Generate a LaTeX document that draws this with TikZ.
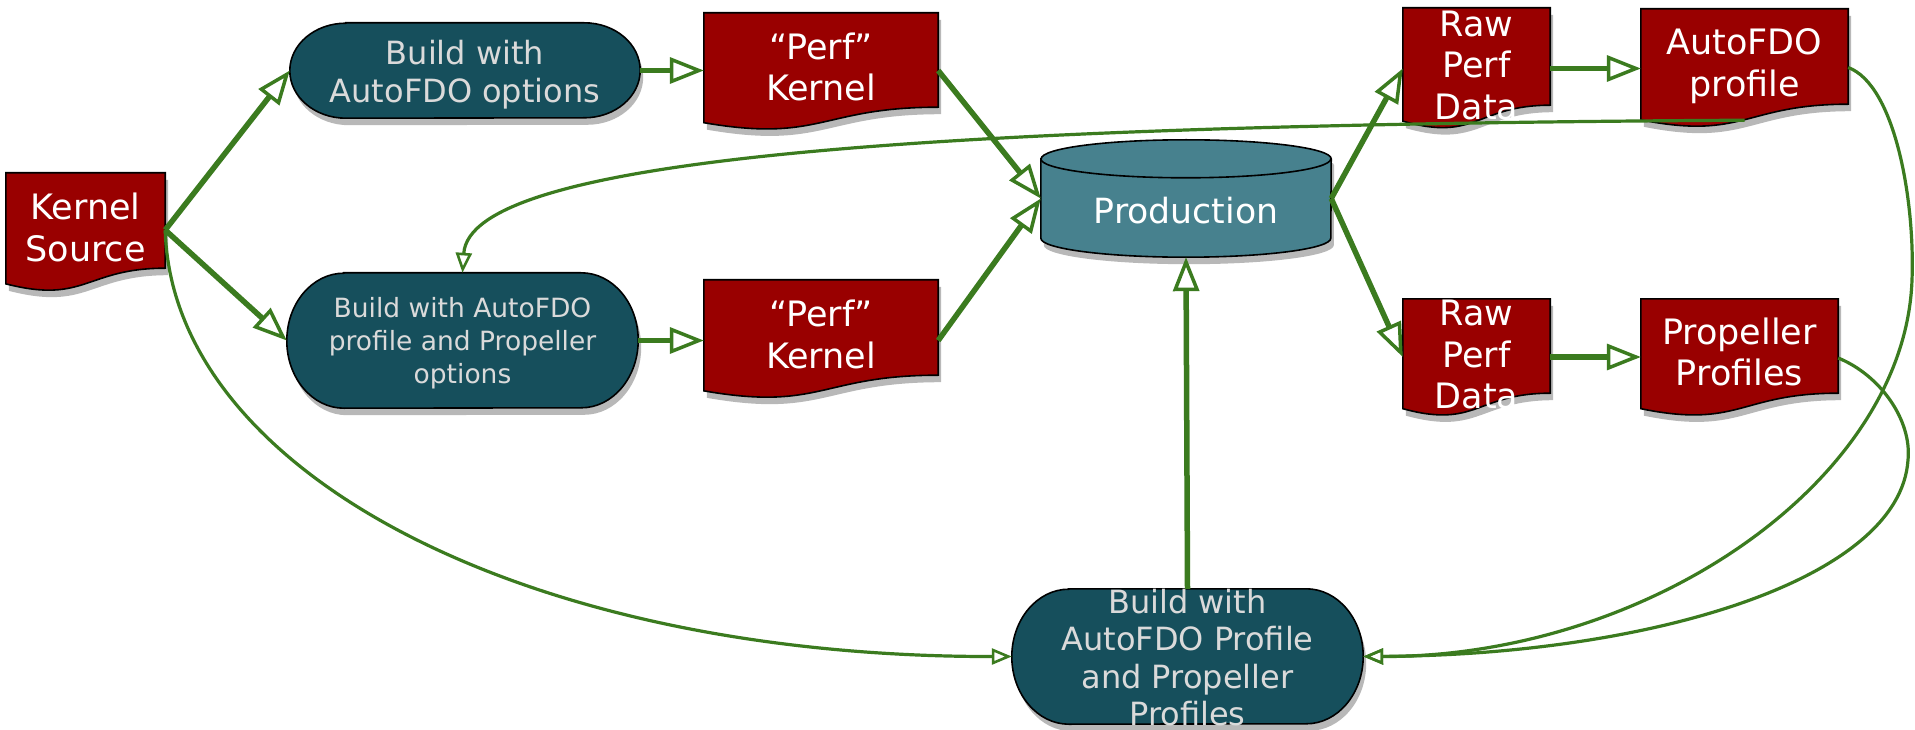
\documentclass[tikz,border=0pt]{standalone}
\usepackage{fontspec}
\setmainfont{DejaVu Sans}
\usetikzlibrary{arrows.meta,shadows,backgrounds,calc}
\definecolor{docred}{HTML}{990000}
\definecolor{buildteal}{HTML}{164F5C}
\definecolor{prodteal}{HTML}{47818E}
\definecolor{arrowgreen}{HTML}{3B7B1F}
\definecolor{buildtext}{HTML}{DADADA}
\newcommand\ntxt[2][0pt]{\smash{\raisebox{\dimexpr-0.37em-#1\relax}{\begin{tabular}{@{}c@{}}#2\end{tabular}}}}
\newcommand\docshape[2]{\path[docfill] (#1.north west) -- (#1.north east) -- (#1.south east) .. controls (#1.south) and ([yshift=-0.381*#2pt]#1.south) .. ([yshift=-0.1646*#2pt]#1.south west) -- cycle;}
\newcommand\termshape[3]{\path[termfill] ([xshift=#2pt]#1.north west) -- ([xshift=-#2pt]#1.north east) arc[start angle=90, end angle=-90, x radius=#2pt, y radius=#3pt] -- ([xshift=#2pt]#1.south west) arc[start angle=270, end angle=90, x radius=#2pt, y radius=#3pt] -- cycle;}
\tikzset{
  sh/.style={drop shadow={shadow xshift=3pt, shadow yshift=-7pt, fill=black, opacity=0.28}},
  docfill/.style={fill=docred, draw=black, line width=1.6pt, sh},
  termfill/.style={fill=buildteal, draw=black, line width=1.6pt, sh},
  prodfill/.style={fill=prodteal, draw=black, line width=1.6pt, sh},
  docnode/.style={rectangle, inner sep=0pt, text=white, font=\fontsize{35}{41.5}\selectfont},
  termnode/.style={rectangle, inner sep=0pt, text=buildtext},
  thickarrow/.style={draw=arrowgreen, line width=5.5pt, -{Triangle[open, length=34pt, width=26pt, line width=3.5pt]}},
  thinarrow/.style={draw=arrowgreen, line width=3.2pt, -{Triangle[open, length=20pt, width=16pt, line width=2.6pt]}},
}
\begin{document}
\begin{tikzpicture}[x=1pt, y=-1pt]
\useasboundingbox (0,0) rectangle (1915,730);
% nodes
\node[docnode, minimum width=159pt, minimum height=95pt] (ks) at (85.5,220.5) {\ntxt[5pt]{Kernel\\Source}};
\node[docnode, minimum width=234pt, minimum height=94pt] (pk1) at (821,60) {\ntxt[5pt]{“Perf”\\Kernel}};
\node[docnode, minimum width=234pt, minimum height=95pt] (pk2) at (821,327.5) {\ntxt[5pt]{“Perf”\\Kernel}};
\node[docnode, minimum width=147pt, minimum height=97pt] (rp1) at (1476.5,56.5) {\ntxt[6pt]{Raw\\Perf\\Data}};
\node[docnode, minimum width=207pt, minimum height=95pt] (afp) at (1744.5,56.5) {\ntxt[4pt]{AutoFDO\\profile}};
\node[docnode, minimum width=147pt, minimum height=94pt] (rp2) at (1476.5,346) {\ntxt[6pt]{Raw\\Perf\\Data}};
\node[docnode, minimum width=197pt, minimum height=94pt] (pp) at (1739.5,346) {\ntxt[4pt]{Propeller\\Profiles}};
\node[termnode, font=\fontsize{32}{37.5}\selectfont, minimum width=350pt, minimum height=95pt] (b1) at (465,70.5) {\ntxt{Build with\\AutoFDO options}};
\node[termnode, font=\fontsize{26.5}{33}\selectfont, minimum width=351pt, minimum height=135pt] (b2) at (462.5,340.5) {\ntxt{Build with AutoFDO\\profile and Propeller\\options}};
\node[termnode, font=\fontsize{32}{37.5}\selectfont, minimum width=351pt, minimum height=135pt] (b3) at (1187.5,656.5) {\ntxt{Build with\\AutoFDO Profile\\and Propeller\\Profiles}};
\node[rectangle, inner sep=0pt, text=white, font=\fontsize{34.7}{41}\selectfont, minimum width=290pt, minimum height=117pt] (prod) at (1186,198.5) {\ntxt[10pt]{Production}};
% shapes
\begin{pgfonlayer}{background}
\fill[white] (0,0) rectangle (1915,730);
\docshape{ks}{95}
\docshape{pk1}{94}
\docshape{pk2}{95}
\docshape{rp1}{97}
\docshape{afp}{95}
\docshape{rp2}{94}
\docshape{pp}{94}
\termshape{b1}{56}{47.5}
\termshape{b2}{57}{67.5}
\termshape{b3}{57}{67.5}
\path[prodfill] ([yshift=-19pt]prod.north west) -- ([yshift=19pt]prod.south west) arc[start angle=180, end angle=360, x radius=145pt, y radius=19pt] -- ([yshift=-19pt]prod.north east) arc[start angle=0, end angle=180, x radius=145pt, y radius=19pt] -- cycle;
\draw[line width=1.6pt] ([yshift=-19pt]prod.north west) arc[start angle=180, end angle=360, x radius=145pt, y radius=19pt];
\end{pgfonlayer}
% connectors
\coordinate (ksout) at ([yshift=-9.5pt]ks.east);
\coordinate (r1) at ([yshift=-12pt]rp1.west);
\coordinate (r2) at ([yshift=-11pt]rp2.west);
\draw[thickarrow] (ksout) -- (b1.west);
\draw[thickarrow] (ksout) -- (b2.west);
\draw[thickarrow] (b1.east) -- (b1.east -| pk1.west);
\draw[thickarrow] (b2.east) -- (b2.east -| pk2.west);
\draw[thickarrow] (pk1.east |- b1.east) -- (prod.west);
\draw[thickarrow] (pk2.east |- b2.east) -- (prod.west);
\draw[thickarrow] (prod.east) -- (r1);
\draw[thickarrow] (prod.east) -- (r2);
\draw[thickarrow] (r1 -| rp1.east) -- (r1 -| afp.west);
\draw[thickarrow] (r2 -| rp2.east) -- (r2 -| pp.west);
\draw[thickarrow] (b3.north) -- (prod.south);
\draw[thinarrow] ([yshift=-16pt]afp.south) .. controls (900,125) and (470,160) .. (b2.north);
\draw[thinarrow] ([yshift=-11pt]afp.east) .. controls (1895,85) and (1915,200) .. (1912,280) .. controls (1905,480) and (1650,657) .. (b3.east);
\draw[thinarrow] ([yshift=-12pt]pp.east) .. controls (1880,375) and (1912,420) .. (1908,460) .. controls (1900,580) and (1650,655) .. (b3.east);
\draw[thinarrow] (ksout) .. controls (172,470) and (520,657) .. (b3.west);
\end{tikzpicture}
\end{document}
